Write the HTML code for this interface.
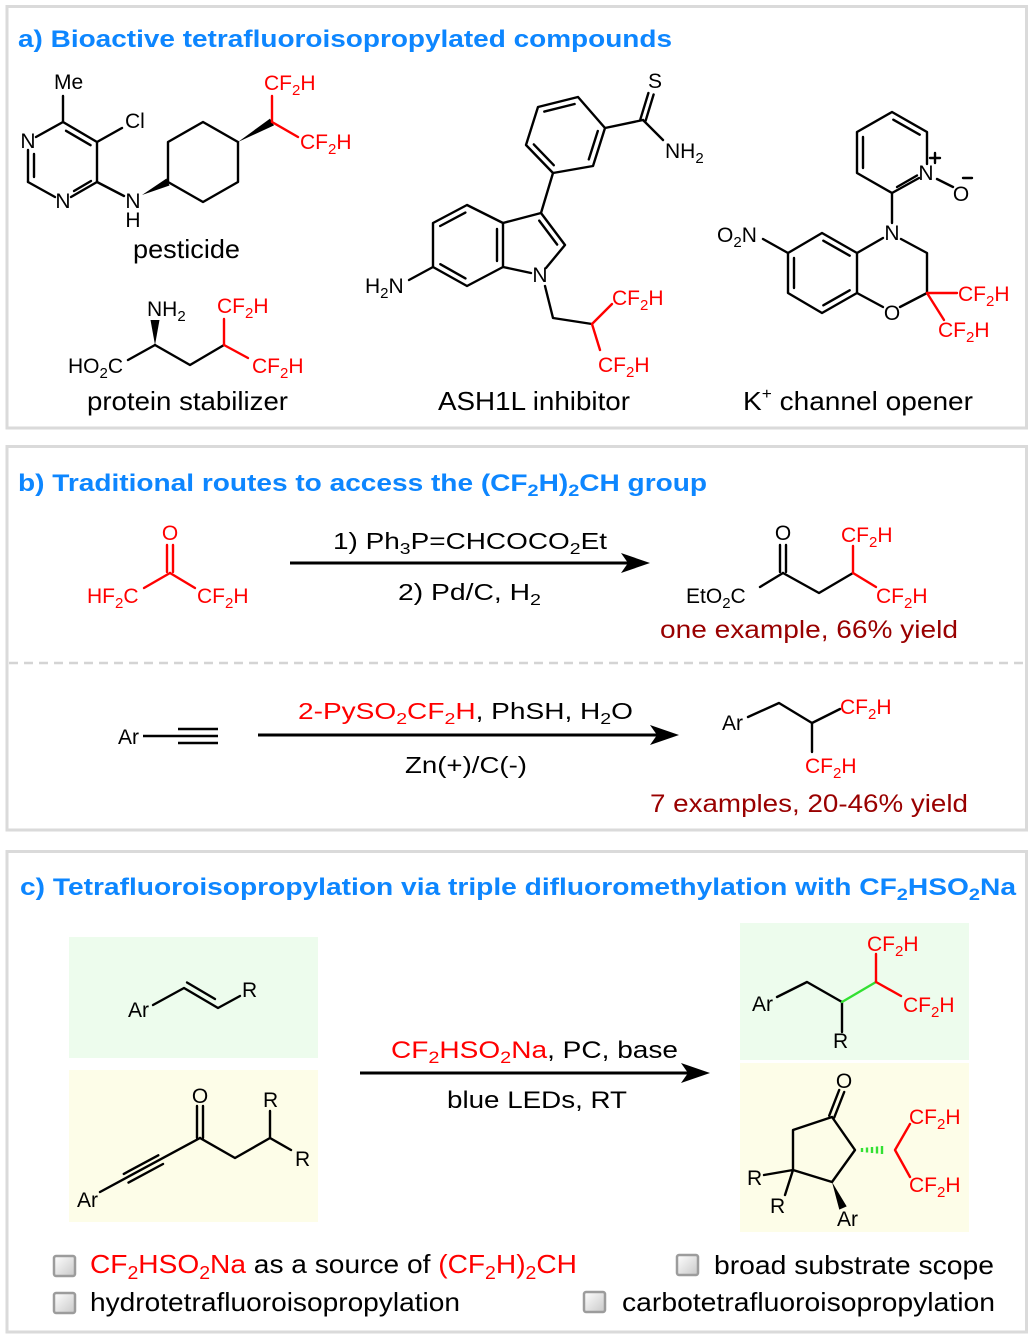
<!DOCTYPE html>
<html><head><meta charset="utf-8"><style>
html,body{margin:0;padding:0;background:#fff;}
svg{display:block;}
text{font-family:"Liberation Sans",Arial,sans-serif;}
</style></head><body>
<svg width="1036" height="1338" viewBox="0 0 1036 1338" xmlns="http://www.w3.org/2000/svg">
<defs>
<linearGradient id="cb" x1="0" y1="0" x2="1" y2="1">
<stop offset="0" stop-color="#ffffff"/><stop offset="1" stop-color="#c8c8c8"/>
</linearGradient>
</defs>
<rect x="0" y="0" width="1036" height="1338" fill="#fff"/>
<!-- panels -->
<g fill="none" stroke="#dadada" stroke-width="3">
<rect x="7" y="6.5" width="1019.5" height="421.5"/>
<rect x="7" y="446.5" width="1019.5" height="383.5"/>
<rect x="7" y="851.5" width="1019.5" height="480.5"/>
</g>
<line x1="9" y1="663" x2="1025" y2="663" stroke="#d4d4d4" stroke-width="2.5" stroke-dasharray="9 6"/>

<!-- titles -->
<text x="18" y="47" font-size="24" font-weight="bold" fill="#0d86ff" textLength="654" lengthAdjust="spacingAndGlyphs">a) Bioactive tetrafluoroisopropylated compounds</text>
<text x="18" y="491" font-size="24" font-weight="bold" fill="#0d86ff" textLength="689" lengthAdjust="spacingAndGlyphs">b) Traditional routes to access the (CF<tspan font-size="17" dy="5">2</tspan><tspan dy="-5">H)</tspan><tspan font-size="17" dy="5">2</tspan><tspan dy="-5">CH group</tspan></text>
<text x="20" y="895" font-size="24" font-weight="bold" fill="#0d86ff" textLength="996" lengthAdjust="spacingAndGlyphs">c) Tetrafluoroisopropylation via triple difluoromethylation with CF<tspan font-size="17" dy="5">2</tspan><tspan dy="-5">HSO</tspan><tspan font-size="17" dy="5">2</tspan><tspan dy="-5">Na</tspan></text>

<!-- ========== Section a: pesticide ========== -->
<g stroke="#000" stroke-width="2.4" fill="none" stroke-linecap="round" stroke-linejoin="round">
<line x1="63" y1="96" x2="63" y2="122"/>
<line x1="63" y1="122" x2="36" y2="137"/>
<line x1="28" y1="150" x2="28" y2="182"/>
<line x1="34" y1="154" x2="34" y2="177"/>
<line x1="28" y1="182" x2="55" y2="197"/>
<line x1="71" y1="197" x2="97" y2="182"/>
<line x1="74" y1="191" x2="91" y2="181"/>
<polyline points="97,182 97,142 63,122"/>
<line x1="90.6" y1="145.2" x2="66" y2="130.8"/>
<line x1="97" y1="142" x2="122" y2="128"/>
<line x1="97" y1="182" x2="124" y2="196"/>
<polygon points="168,182 168,142 203,122 238,142 238,182 203,202"/>
</g>
<polygon points="142,195 169.5,185.5 166.5,178.5" fill="#000"/>
<polygon points="238,142 274,125.4 270,118.6" fill="#000"/>
<g stroke="#ff0000" stroke-width="2.4" fill="none" stroke-linecap="round">
<line x1="272" y1="122" x2="272" y2="96"/>
<line x1="272" y1="122" x2="298" y2="137"/>
</g>
<g font-size="21" fill="#000">
<text x="54" y="89">Me</text>
<text x="28" y="148" text-anchor="middle">N</text>
<text x="63" y="208" text-anchor="middle">N</text>
<text x="125" y="128">Cl</text>
<text x="133" y="208" text-anchor="middle">N</text>
<text x="133" y="227" text-anchor="middle">H</text>
</g>
<g font-size="21" fill="#ff0000">
<text x="264" y="90">CF<tspan font-size="15" dy="5">2</tspan><tspan dy="-5">H</tspan></text>
<text x="300" y="149">CF<tspan font-size="15" dy="5">2</tspan><tspan dy="-5">H</tspan></text>
</g>
<text x="133" y="258" font-size="26" textLength="107" lengthAdjust="spacingAndGlyphs">pesticide</text>

<!-- protein stabilizer -->
<g stroke="#000" stroke-width="2.4" fill="none" stroke-linecap="round" stroke-linejoin="round">
<line x1="128" y1="360" x2="155" y2="345"/>
<polyline points="155,345 190,365 224,345"/>
</g>
<polygon points="155,345 150.5,320 159.5,320" fill="#000"/>
<g stroke="#ff0000" stroke-width="2.4" fill="none" stroke-linecap="round">
<line x1="224" y1="345" x2="224" y2="319"/>
<line x1="224" y1="345" x2="248" y2="358"/>
</g>
<g font-size="21" fill="#000">
<text x="68" y="373">HO<tspan font-size="15" dy="5">2</tspan><tspan dy="-5">C</tspan></text>
<text x="147" y="316">NH<tspan font-size="15" dy="5">2</tspan></text>
</g>
<g font-size="21" fill="#ff0000">
<text x="217" y="313">CF<tspan font-size="15" dy="5">2</tspan><tspan dy="-5">H</tspan></text>
<text x="252" y="373">CF<tspan font-size="15" dy="5">2</tspan><tspan dy="-5">H</tspan></text>
</g>
<text x="87" y="410" font-size="26" textLength="201" lengthAdjust="spacingAndGlyphs">protein stabilizer</text>

<!-- ASH1L inhibitor -->
<g stroke="#000" stroke-width="2.4" fill="none" stroke-linecap="round" stroke-linejoin="round">
<line x1="640.4" y1="119.2" x2="648.4" y2="93"/>
<line x1="645.6" y1="120.8" x2="653.6" y2="94.5"/>
<line x1="643" y1="120" x2="663" y2="140"/>
<line x1="643" y1="120" x2="605" y2="128"/>
<polygon points="605,128 578,97 538,107 526,145 553,173 593,166"/>
<line x1="574.6" y1="104" x2="544.3" y2="111.6"/>
<line x1="533.8" y1="144.4" x2="553.8" y2="165.2"/>
<line x1="588.8" y1="159.4" x2="597.8" y2="131"/>
<line x1="553" y1="173" x2="541" y2="213"/>
<polygon points="467,205 433,223 433,267 467,286 503,267 503,223"/>
<line x1="465.4" y1="212.6" x2="440.2" y2="226"/>
<line x1="440.3" y1="264.2" x2="465.5" y2="278.4"/>
<line x1="497" y1="229" x2="497" y2="261"/>
<polyline points="503,223 541,213 565,245 546,268"/>
<line x1="539.2" y1="220.6" x2="557.2" y2="244.6"/>
<line x1="531" y1="273" x2="503" y2="267"/>
<line x1="433" y1="267" x2="409" y2="280"/>
<polyline points="545,286 553,318 592,324"/>
</g>
<g stroke="#ff0000" stroke-width="2.4" fill="none" stroke-linecap="round">
<line x1="592" y1="324" x2="612" y2="304"/>
<line x1="592" y1="324" x2="600" y2="350"/>
</g>
<g font-size="21" fill="#000">
<text x="655" y="88" text-anchor="middle">S</text>
<text x="665" y="158">NH<tspan font-size="15" dy="5">2</tspan></text>
<text x="540" y="282" text-anchor="middle">N</text>
<text x="365" y="293">H<tspan font-size="15" dy="5">2</tspan><tspan dy="-5">N</tspan></text>
</g>
<g font-size="21" fill="#ff0000">
<text x="612" y="305">CF<tspan font-size="15" dy="5">2</tspan><tspan dy="-5">H</tspan></text>
<text x="598" y="372">CF<tspan font-size="15" dy="5">2</tspan><tspan dy="-5">H</tspan></text>
</g>
<text x="438" y="410" font-size="26" textLength="192" lengthAdjust="spacingAndGlyphs">ASH1L inhibitor</text>

<!-- K+ channel opener -->
<g stroke="#000" stroke-width="2.4" fill="none" stroke-linecap="round" stroke-linejoin="round">
<polyline points="927,164 927,132 892,112 857,132 857,173 892,193 919,178"/>
<line x1="893.3" y1="119.7" x2="919.7" y2="134.7"/>
<line x1="863" y1="137" x2="863" y2="168"/>
<line x1="897" y1="187" x2="917" y2="175.5"/>
<line x1="930" y1="158" x2="940" y2="158"/>
<line x1="935" y1="153" x2="935" y2="163"/>
<line x1="937" y1="179" x2="953" y2="187"/>
<line x1="963" y1="178" x2="972" y2="178"/>
<line x1="892" y1="193" x2="892" y2="223"/>
<polyline points="901,239 927,253 927,293 900,307"/>
<line x1="883" y1="307" x2="857" y2="293"/>
<line x1="857" y1="253" x2="883" y2="238"/>
<polygon points="857,253 822,233 788,253 788,293 822,313 857,293"/>
<line x1="849.7" y1="255.7" x2="823.3" y2="240.7"/>
<line x1="794" y1="258" x2="794" y2="288"/>
<line x1="823.3" y1="305.3" x2="849.7" y2="290.3"/>
<line x1="788" y1="253" x2="763" y2="239"/>
</g>
<g stroke="#ff0000" stroke-width="2.4" fill="none" stroke-linecap="round">
<line x1="927" y1="293" x2="957" y2="293"/>
<line x1="927" y1="293" x2="944" y2="320"/>
</g>
<g font-size="21" fill="#000">
<text x="926" y="180" text-anchor="middle">N</text>
<text x="961" y="201" text-anchor="middle">O</text>
<text x="892" y="240" text-anchor="middle">N</text>
<text x="892" y="320" text-anchor="middle">O</text>
<text x="717" y="242">O<tspan font-size="15" dy="5">2</tspan><tspan dy="-5">N</tspan></text>
</g>
<g font-size="21" fill="#ff0000">
<text x="958" y="301">CF<tspan font-size="15" dy="5">2</tspan><tspan dy="-5">H</tspan></text>
<text x="938" y="337">CF<tspan font-size="15" dy="5">2</tspan><tspan dy="-5">H</tspan></text>
</g>
<text x="743" y="410" font-size="26" textLength="230" lengthAdjust="spacingAndGlyphs">K<tspan font-size="16" dy="-11">+</tspan><tspan dy="11"> channel opener</tspan></text>

<!-- ========== Section b ========== -->
<g stroke="#ff0000" stroke-width="2.4" fill="none" stroke-linecap="round">
<line x1="167" y1="545" x2="167" y2="572"/>
<line x1="173" y1="545" x2="173" y2="572"/>
<line x1="170" y1="573" x2="144" y2="588"/>
<line x1="170" y1="573" x2="195" y2="588"/>
</g>
<g font-size="21" fill="#ff0000">
<text x="170" y="540" text-anchor="middle">O</text>
<text x="87" y="603">HF<tspan font-size="15" dy="5">2</tspan><tspan dy="-5">C</tspan></text>
<text x="197" y="603">CF<tspan font-size="15" dy="5">2</tspan><tspan dy="-5">H</tspan></text>
</g>
<line x1="290" y1="563" x2="630" y2="563" stroke="#000" stroke-width="3"/>
<polygon points="650,563 621,553 628,563 621,573" fill="#000"/>
<text x="333" y="549" font-size="23" textLength="274" lengthAdjust="spacingAndGlyphs">1) Ph<tspan font-size="16" dy="5">3</tspan><tspan dy="-5">P=CHCOCO</tspan><tspan font-size="16" dy="5">2</tspan><tspan dy="-5">Et</tspan></text>
<text x="398" y="600" font-size="23" textLength="143" lengthAdjust="spacingAndGlyphs">2) Pd/C, H<tspan font-size="16" dy="5">2</tspan></text>

<g stroke="#000" stroke-width="2.4" fill="none" stroke-linecap="round" stroke-linejoin="round">
<line x1="780" y1="545" x2="780" y2="572"/>
<line x1="786" y1="545" x2="786" y2="572"/>
<line x1="783" y1="573" x2="760" y2="587"/>
<polyline points="783,573 819,593 853,573"/>
</g>
<g stroke="#ff0000" stroke-width="2.4" fill="none" stroke-linecap="round">
<line x1="853" y1="573" x2="853" y2="546"/>
<line x1="853" y1="573" x2="876" y2="587"/>
</g>
<text x="783" y="540" font-size="21" text-anchor="middle">O</text>
<text x="686" y="603" font-size="21">EtO<tspan font-size="15" dy="5">2</tspan><tspan dy="-5">C</tspan></text>
<g font-size="21" fill="#ff0000">
<text x="841" y="542">CF<tspan font-size="15" dy="5">2</tspan><tspan dy="-5">H</tspan></text>
<text x="876" y="603">CF<tspan font-size="15" dy="5">2</tspan><tspan dy="-5">H</tspan></text>
</g>
<text x="660" y="638" font-size="25" fill="#990000" textLength="298" lengthAdjust="spacingAndGlyphs">one example, 66% yield</text>

<text x="118" y="744" font-size="21">Ar</text>
<g stroke="#000" stroke-width="2.4" fill="none">
<line x1="143" y1="736" x2="178" y2="736"/>
<line x1="178" y1="729" x2="218" y2="729"/>
<line x1="178" y1="736" x2="218" y2="736"/>
<line x1="178" y1="743" x2="218" y2="743"/>
</g>
<line x1="258" y1="735" x2="658" y2="735" stroke="#000" stroke-width="3"/>
<polygon points="679,735 650,725 657,735 650,745" fill="#000"/>
<text x="298" y="719" font-size="23" textLength="335" lengthAdjust="spacingAndGlyphs"><tspan fill="#ff0000">2-PySO</tspan><tspan fill="#ff0000" font-size="16" dy="5">2</tspan><tspan fill="#ff0000" dy="-5">CF</tspan><tspan fill="#ff0000" font-size="16" dy="5">2</tspan><tspan fill="#ff0000" dy="-5">H</tspan>, PhSH, H<tspan font-size="16" dy="5">2</tspan><tspan dy="-5">O</tspan></text>
<text x="405" y="773" font-size="23" textLength="122" lengthAdjust="spacingAndGlyphs">Zn(+)/C(-)</text>

<g stroke="#000" stroke-width="2.4" fill="none" stroke-linecap="round" stroke-linejoin="round">
<polyline points="748,717 779,703 812,723 840,709"/>
<line x1="812" y1="723" x2="812" y2="752"/>
</g>
<text x="722" y="730" font-size="21">Ar</text>
<g font-size="21" fill="#ff0000">
<text x="840" y="714">CF<tspan font-size="15" dy="5">2</tspan><tspan dy="-5">H</tspan></text>
<text x="805" y="773">CF<tspan font-size="15" dy="5">2</tspan><tspan dy="-5">H</tspan></text>
</g>
<text x="650" y="812" font-size="25" fill="#990000" textLength="318" lengthAdjust="spacingAndGlyphs">7 examples, 20-46% yield</text>

<!-- ========== Section c ========== -->
<rect x="69" y="937" width="249" height="121" fill="#edfced"/>
<rect x="69" y="1070" width="249" height="152" fill="#fdfde8"/>
<rect x="740" y="923" width="229" height="137" fill="#edfced"/>
<rect x="740" y="1063" width="229" height="169" fill="#fdfde8"/>

<!-- styrene -->
<g stroke="#000" stroke-width="2.4" fill="none" stroke-linecap="round" stroke-linejoin="round">
<polyline points="153,1005 184,988 218,1008 240,996"/>
<line x1="187" y1="982.5" x2="215" y2="999"/>
</g>
<text x="128" y="1017" font-size="21">Ar</text>
<text x="242" y="997" font-size="21">R</text>

<!-- ynone -->
<g stroke="#000" stroke-width="2.4" fill="none" stroke-linecap="round" stroke-linejoin="round">
<line x1="100" y1="1192" x2="200" y2="1138"/>
<line x1="128.5" y1="1182.6" x2="163" y2="1164"/>
<line x1="123.8" y1="1173.9" x2="158.3" y2="1155.3"/>
<line x1="197" y1="1106" x2="197" y2="1138"/>
<line x1="203" y1="1106" x2="203" y2="1138"/>
<polyline points="200,1138 235,1158 270,1138 270,1111"/>
<line x1="270" y1="1138" x2="291" y2="1150"/>
</g>
<text x="77" y="1207" font-size="21">Ar</text>
<text x="200" y="1103" font-size="21" text-anchor="middle">O</text>
<text x="263" y="1107" font-size="21">R</text>
<text x="295" y="1166" font-size="21">R</text>

<!-- arrow c -->
<line x1="360" y1="1073" x2="688" y2="1073" stroke="#000" stroke-width="3"/>
<polygon points="710,1073 681,1063 688,1073 681,1083" fill="#000"/>
<text x="391" y="1058" font-size="24" textLength="287" lengthAdjust="spacingAndGlyphs"><tspan fill="#ff0000">CF</tspan><tspan fill="#ff0000" font-size="17" dy="5">2</tspan><tspan fill="#ff0000" dy="-5">HSO</tspan><tspan fill="#ff0000" font-size="17" dy="5">2</tspan><tspan fill="#ff0000" dy="-5">Na</tspan>, PC, base</text>
<text x="447" y="1108" font-size="24" textLength="180" lengthAdjust="spacingAndGlyphs">blue LEDs, RT</text>

<!-- product 1 -->
<g stroke="#000" stroke-width="2.4" fill="none" stroke-linecap="round" stroke-linejoin="round">
<polyline points="777,997 807,982 842,1002 842,1032"/>
</g>
<line x1="842" y1="1002" x2="876" y2="982" stroke="#33e033" stroke-width="2.4" stroke-linecap="round"/>
<g stroke="#ff0000" stroke-width="2.4" fill="none" stroke-linecap="round">
<line x1="876" y1="982" x2="876" y2="954"/>
<line x1="876" y1="982" x2="901" y2="996"/>
</g>
<text x="752" y="1011" font-size="21">Ar</text>
<text x="833" y="1048" font-size="21">R</text>
<g font-size="21" fill="#ff0000">
<text x="867" y="951">CF<tspan font-size="15" dy="5">2</tspan><tspan dy="-5">H</tspan></text>
<text x="903" y="1012">CF<tspan font-size="15" dy="5">2</tspan><tspan dy="-5">H</tspan></text>
</g>

<!-- product 2 -->
<g stroke="#000" stroke-width="2.4" fill="none" stroke-linecap="round" stroke-linejoin="round">
<polygon points="832,1117 793,1130 793,1170 832,1182 855,1150"/>
<line x1="829.2" y1="1115.7" x2="839.2" y2="1090"/>
<line x1="834.2" y1="1117.6" x2="844.2" y2="1092"/>
<line x1="793" y1="1170" x2="764" y2="1175"/>
<line x1="793" y1="1170" x2="785" y2="1195"/>
</g>
<polygon points="832,1182 846.7,1206.4 839.3,1209.6" fill="#000"/>
<g stroke="#33e033" stroke-width="2.4">
<line x1="862" y1="1148" x2="862" y2="1152"/>
<line x1="867" y1="1147.5" x2="867" y2="1152.5"/>
<line x1="872" y1="1147" x2="872" y2="1153"/>
<line x1="877" y1="1146.5" x2="877" y2="1153.5"/>
<line x1="882" y1="1146" x2="882" y2="1154"/>
</g>
<g stroke="#ff0000" stroke-width="2.4" fill="none" stroke-linecap="round" stroke-linejoin="round">
<polyline points="910,1124 895,1150 910,1177"/>
</g>
<text x="844" y="1088" font-size="21" text-anchor="middle">O</text>
<text x="747" y="1185" font-size="21">R</text>
<text x="770" y="1213" font-size="21">R</text>
<text x="837" y="1226" font-size="21">Ar</text>
<g font-size="21" fill="#ff0000">
<text x="909" y="1124">CF<tspan font-size="15" dy="5">2</tspan><tspan dy="-5">H</tspan></text>
<text x="909" y="1192">CF<tspan font-size="15" dy="5">2</tspan><tspan dy="-5">H</tspan></text>
</g>

<!-- bullets -->
<g fill="url(#cb)" stroke="#9c9c9c" stroke-width="2.5">
<rect x="54" y="1256" width="21" height="20" rx="2"/>
<rect x="54" y="1293" width="21" height="20" rx="2"/>
<rect x="677" y="1255" width="21" height="20" rx="2"/>
<rect x="584" y="1292" width="21" height="20" rx="2"/>
</g>
<text x="90" y="1273" font-size="26" textLength="487" lengthAdjust="spacingAndGlyphs"><tspan fill="#ff0000">CF</tspan><tspan fill="#ff0000" font-size="18" dy="6">2</tspan><tspan fill="#ff0000" dy="-6">HSO</tspan><tspan fill="#ff0000" font-size="18" dy="6">2</tspan><tspan fill="#ff0000" dy="-6">Na</tspan> as a source of <tspan fill="#ff0000">(CF</tspan><tspan fill="#ff0000" font-size="18" dy="6">2</tspan><tspan fill="#ff0000" dy="-6">H)</tspan><tspan fill="#ff0000" font-size="18" dy="6">2</tspan><tspan fill="#ff0000" dy="-6">CH</tspan></text>
<text x="90" y="1311" font-size="26" textLength="370" lengthAdjust="spacingAndGlyphs">hydrotetrafluoroisopropylation</text>
<text x="714" y="1274" font-size="26" textLength="280" lengthAdjust="spacingAndGlyphs">broad substrate scope</text>
<text x="622" y="1311" font-size="26" textLength="373" lengthAdjust="spacingAndGlyphs">carbotetrafluoroisopropylation</text>
</svg>
</body></html>
